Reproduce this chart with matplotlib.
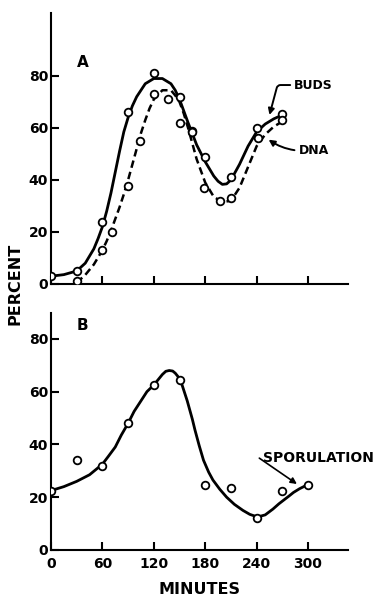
import matplotlib
matplotlib.use("Agg")
import matplotlib.pyplot as plt

# --- data ---
# panel A: budding cells and DNA synthesis (points)
buds_t = [0, 30, 60, 90, 120, 150, 165, 180, 210, 240, 270]
buds_v = [3, 5, 24, 66, 81, 72, 59, 49, 41, 60, 65.5]
dna_t = [30, 60, 71, 90, 104, 120, 137, 151, 165, 178, 197, 210, 242, 270]
dna_v = [1, 13, 20, 37.5, 55, 73, 71, 62, 58.5, 37, 32, 33, 56, 63]

# panel A: drawn curves (traced)
buds_curve_t = [0, 15, 30, 40, 50, 55, 60, 65, 70, 75, 80, 85, 90, 95, 100,
                110, 120, 130, 140, 145, 150, 155, 160, 170, 180, 190, 195,
                200, 205, 210, 220, 230, 240, 250, 260, 270]
buds_curve_v = [3, 3.6, 5, 8, 13.5, 17.5, 22, 28, 35, 43, 51, 58.5, 64,
                68.5, 72, 77, 79, 79, 77, 74.5, 71, 66.5, 62, 53.5, 47, 41.5,
                39.5, 38.3, 38.5, 40, 46, 53, 58.5, 61.5, 63.5, 65]
dna_curve_t = [30, 40, 50, 60, 65, 70, 75, 80, 85, 90, 95, 100, 105, 110,
               115, 120, 130, 140, 145, 150, 155, 160, 165, 170, 180, 190,
               200, 210, 220, 230, 240, 250, 260, 270]
dna_curve_v = [0.5, 3.5, 7.5, 13, 16.5, 20.5, 25, 29.5, 34.5, 40, 46, 52,
               58, 63, 67.5, 71, 74.5, 74.5, 72.5, 70, 65.5, 60, 54, 48, 39,
               33.5, 31.5, 32, 37, 45, 53, 57.5, 60.5, 62.5]

# panel B: sporulation
spor_t = [0, 30, 60, 90, 120, 150, 180, 210, 240, 270, 300]
spor_v = [22.5, 34, 32, 48, 62.5, 64.5, 24.5, 23.5, 12, 22.5, 24.5]
spor_curve_t = [0, 15, 30, 45, 60, 67, 75, 82, 90, 97, 105, 112, 120, 125,
                130, 134, 138, 142, 145, 148, 150, 153, 156, 159, 162, 165,
                168, 173, 178, 184, 189, 197, 205, 214, 224, 232, 241, 250,
                259, 266, 272, 278, 283, 290, 298]
spor_curve_v = [22.5, 24, 26, 28.5, 32.5, 35.5, 39, 43.5, 48, 52.5, 56.5,
                60, 62.5, 64.5, 66.5, 67.7, 68, 67.8, 67, 65.8, 64.5, 62.5,
                59.5, 56.5, 53, 49.5, 45.5, 39.5, 34, 29.5, 26.5, 23, 20,
                17.3, 15, 13.5, 12.5, 13.3, 15.5, 17.5, 19, 20.5, 21.8, 23.2,
                24.5]

x_ticks = [0, 60, 120, 180, 240, 300]
y_ticks = [0, 20, 40, 60, 80]

plt.rcParams["font.family"] = "DejaVu Sans"
plt.rcParams["font.weight"] = "bold"

fig = plt.figure(figsize=(3.73, 5.96), dpi=100)
axA = fig.add_axes([0.1367, 0.5235, 0.796, 0.4547])
axB = fig.add_axes([0.1367, 0.0772, 0.796, 0.3977])

mk = dict(marker="o", ms=5.5, mfc="white", mec="black", mew=1.3, ls="none", zorder=5)

for ax, ytop in [(axA, 104.2), (axB, 89.8)]:
    ax.set_xlim(0, 346.5)
    ax.set_ylim(0, ytop)
    ax.spines["top"].set_visible(False)
    ax.spines["right"].set_visible(False)
    for s in ["left", "bottom"]:
        ax.spines[s].set_linewidth(1.5)
    ax.set_xticks(x_ticks)
    ax.set_yticks(y_ticks)
    ax.tick_params(direction="in", length=6, width=1.5, labelsize=10, pad=2)
    ax.tick_params(axis="x", pad=5)

axA.tick_params(axis="x", labelbottom=False)

# panel A
axA.plot(buds_curve_t, buds_curve_v, color="black", lw=2.0,
         solid_joinstyle="round", solid_capstyle="round")
axA.plot(dna_curve_t, dna_curve_v, color="black", lw=1.8, dashes=(3, 1.7))
axA.plot(buds_t, buds_v, **mk)
axA.plot(dna_t, dna_v, **mk)
axA.text(37, 85, "A", fontsize=11, fontweight="bold", ha="center", va="center")
axA.annotate("BUDS", xy=(255, 65), xytext=(284, 76.5), fontsize=9, fontweight="bold",
             va="center", ha="left",
             arrowprops=dict(arrowstyle="-|>", color="black", lw=1.4,
                             connectionstyle="angle,angleA=180,angleB=75,rad=3",
                             shrinkA=1, shrinkB=0, mutation_scale=9))
axA.annotate("DNA", xy=(254, 55.5), xytext=(289, 51.5), fontsize=9, fontweight="bold",
             va="center", ha="left",
             arrowprops=dict(arrowstyle="-|>", color="black", lw=1.4,
                             connectionstyle="arc3,rad=-0.2",
                             shrinkA=1, shrinkB=0, mutation_scale=9))

# panel B
axB.plot(spor_curve_t, spor_curve_v, color="black", lw=2.0,
         solid_joinstyle="round", solid_capstyle="round")
axB.plot(spor_t, spor_v, **mk)
axB.text(37, 85, "B", fontsize=11, fontweight="bold", ha="center", va="center")
axB.annotate("SPORULATION", xy=(287, 25), xytext=(247, 34.8), fontsize=10,
             fontweight="bold", va="center", ha="left", annotation_clip=False,
             arrowprops=dict(arrowstyle="-|>", color="black", lw=1.2,
                             shrinkA=0, shrinkB=0, mutation_scale=9,
                             patchA=None, relpos=(-0.03, 0.5)))

axB.set_xlabel("MINUTES", fontsize=11.5, fontweight="bold", labelpad=8)
fig.text(0.04, 0.523, "PERCENT", rotation=90, fontsize=11.5, fontweight="bold",
         ha="center", va="center")

fig.savefig("out.png", dpi=100)
